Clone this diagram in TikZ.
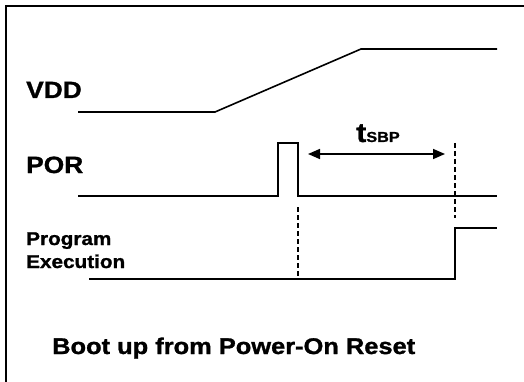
\documentclass[tikz,border=0pt]{standalone}
\usepackage{fontspec}
\setmainfont{Liberation Sans}[FakeStretch=1.12,BoldFeatures={FakeBold=1.2}]
\usetikzlibrary{arrows.meta}
\begin{document}
\begin{tikzpicture}[x=1pt,y=-1pt,
  wave/.style={line width=1.6pt,line join=miter},
  guide/.style={line width=1.3pt,dash pattern=on 5pt off 3pt},
  lbl/.style={font=\bfseries\fontsize{23.5}{26}\selectfont,anchor=base west,inner sep=0pt},
  small/.style={font=\bfseries\fontsize{18.5}{22}\selectfont,anchor=base west,inner sep=0pt,align=left},
  frame/.style={line width=2pt}]
\useasboundingbox (0,0) rectangle (524,382);
% frame
\draw[frame] (6,383) -- (6,6) -- (525,6);
% labels
\node[lbl] (vdd) at (26,98) {VDD};
\node[lbl] (por) at (26,173) {POR};
\node[small] (prog) at (26,245) {Program};
\node[small] (exec) at (26,268) {Execution};
\node[font=\bfseries\fontsize{22.7}{24}\selectfont,anchor=base west,inner sep=0pt] (title) at (52,354) {Boot up from Power-On Reset};
% VDD waveform
\coordinate (v0) at (78,112);
\coordinate (v1) at (215,112);
\coordinate (v2) at (361,49);
\coordinate (v3) at (497,49);
\draw[wave] (v0) -- (v1) -- (v2) -- (v3);
% POR waveform
\coordinate (p0) at (78,196);
\coordinate (p1) at (278,196);
\coordinate (p2) at (278,143);
\coordinate (p3) at (298,143);
\coordinate (p4) at (298,196);
\coordinate (p5) at (497,196);
\draw[wave] (p0) -- (p1) -- (p2) -- (p3) -- (p4) -- (p5);
% Program execution waveform
\coordinate (e0) at (89,279);
\coordinate (e1) at (455,279);
\coordinate (e2) at (455,228);
\coordinate (e3) at (497,228);
\draw[wave] (e0) -- (e1) -- (e2) -- (e3);
% dashed guides
\coordinate (d1a) at (298,207);
\coordinate (d2a) at (455,143);
\coordinate (d2b) at (455,218);
\draw[guide] (d1a) -- (e0 -| d1a);
\draw[guide] (d2a) -- (d2b);
% tSBP arrow
\coordinate (a0) at (308,154);
\coordinate (a1) at (445,154);
\draw[line width=1.6pt,{Triangle[length=12pt,width=10pt]}-{Triangle[length=12pt,width=10pt]}] (a0) -- (a1);
\node[anchor=base,inner sep=0pt] (tsbp) at (378,142) {\bfseries\fontsize{27}{28}\selectfont t\fontsize{14.5}{16}\selectfont SBP};
\end{tikzpicture}
\end{document}
